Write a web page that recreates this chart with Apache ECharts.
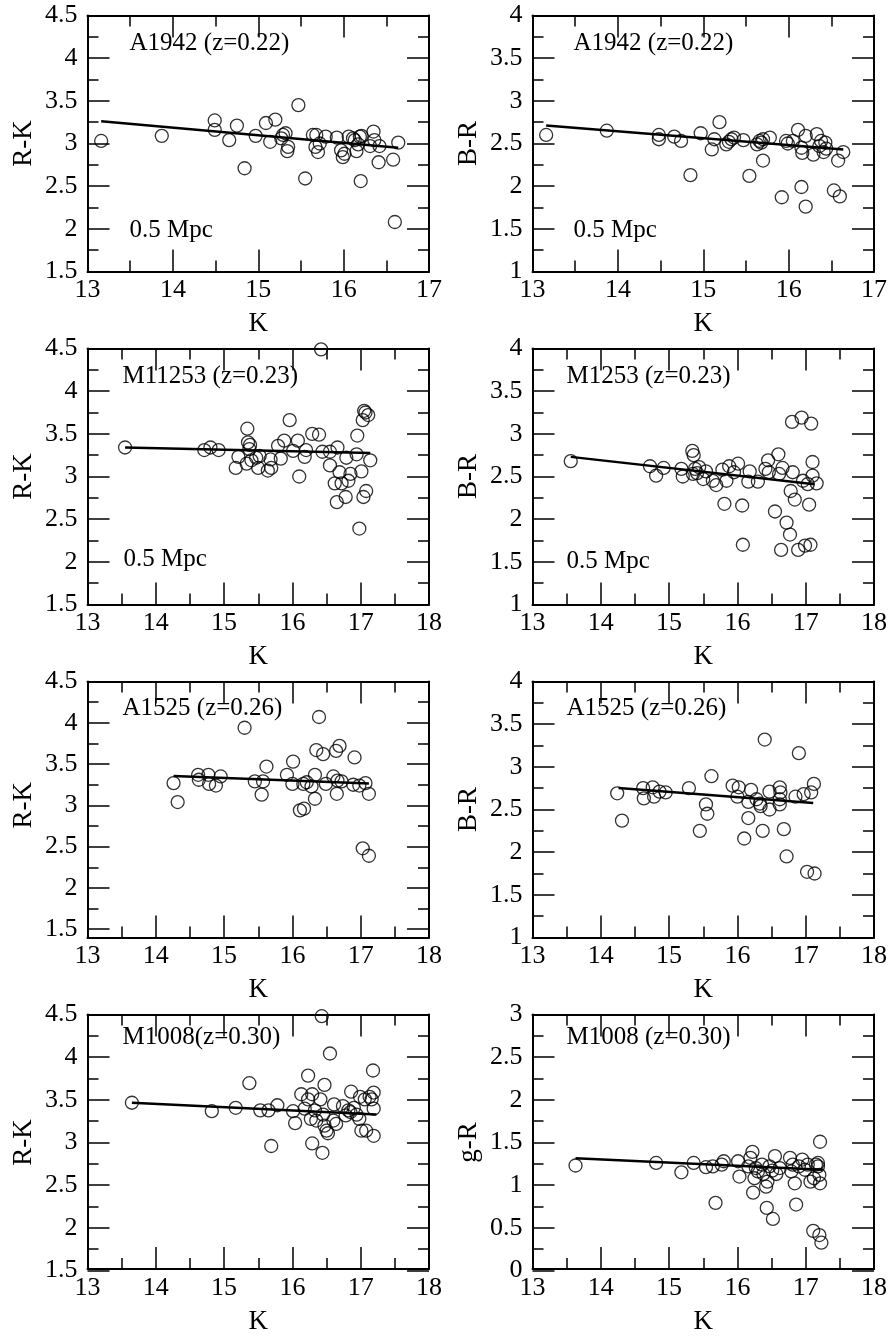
<!DOCTYPE html>
<html>
<head>
<meta charset="utf-8">
<script src="https://cdn.jsdelivr.net/npm/echarts@6/dist/echarts.min.js"></script>
<style>
  html, body { margin: 0; padding: 0; background: #fff; }
  #chart { width: 893px; height: 1336px; }
</style>
</head>
<body>
<div id="chart"></div>
<script>
// tick labels
const K_TICKS_17 = [13, 14, 15, 16, 17];
const K_TICKS_18 = [13, 14, 15, 16, 17, 18];
const RK_TICKS = [1.5, 2, 2.5, 3, 3.5, 4, 4.5];
const BR_TICKS = [1, 1.5, 2, 2.5, 3, 3.5, 4];
const GR_TICKS = [0, 0.5, 1, 1.5, 2, 2.5, 3];

// A1942 (z=0.22), [K, colour]
const A1942_RK = [[13.16,3.03],[13.87,3.09],[14.49,3.27],[14.49,3.16],[14.66,3.04],[14.75,3.21],[14.84,2.71],[14.97,3.09],[15.09,3.24],[15.20,3.28],[15.14,3.02],[15.27,3.06],[15.29,3.10],[15.32,3.12],[15.35,2.96],[15.34,2.91],[15.47,3.45],[15.55,2.59],[15.64,3.10],[15.68,3.10],[15.67,2.96],[15.70,2.90],[15.72,3.00],[15.79,3.08],[15.92,3.07],[15.97,2.92],[15.99,2.84],[16.01,2.88],[16.06,3.08],[16.11,3.06],[16.13,3.04],[16.15,2.91],[16.17,2.99],[16.19,3.08],[16.21,3.09],[16.20,2.56],[16.31,2.97],[16.35,3.14],[16.36,3.04],[16.42,2.97],[16.41,2.78],[16.58,2.81],[16.60,2.08],[16.64,3.01]];
const A1942_RK_FIT = [[13.16,3.26],[16.64,2.95]];
const A1942_BR = [[13.16,2.60],[13.87,2.65],[14.48,2.60],[14.48,2.55],[14.66,2.58],[14.74,2.53],[14.85,2.13],[14.97,2.62],[15.10,2.43],[15.13,2.55],[15.19,2.75],[15.27,2.49],[15.30,2.52],[15.33,2.55],[15.36,2.57],[15.47,2.54],[15.54,2.12],[15.63,2.49],[15.66,2.53],[15.68,2.51],[15.70,2.55],[15.70,2.30],[15.78,2.57],[15.92,1.87],[15.97,2.53],[15.99,2.50],[16.05,2.53],[16.11,2.66],[16.15,2.45],[16.16,2.39],[16.15,1.99],[16.20,2.59],[16.20,1.76],[16.29,2.37],[16.33,2.61],[16.36,2.47],[16.38,2.53],[16.41,2.40],[16.43,2.51],[16.44,2.44],[16.53,1.95],[16.58,2.30],[16.60,1.88],[16.64,2.40]];
const A1942_BR_FIT = [[13.16,2.71],[16.64,2.43]];

// M1253 (z=0.23)
const M1253_RK = [[13.55,3.34],[14.71,3.31],[14.80,3.34],[14.92,3.31],[15.21,3.23],[15.17,3.10],[15.34,3.56],[15.35,3.40],[15.38,3.37],[15.37,3.32],[15.33,3.15],[15.40,3.19],[15.47,3.22],[15.50,3.10],[15.52,3.24],[15.64,3.07],[15.68,3.20],[15.69,3.10],[15.79,3.36],[15.83,3.21],[15.88,3.42],[15.96,3.66],[16.01,3.30],[16.08,3.42],[16.10,3.00],[16.18,3.23],[16.20,3.31],[16.29,3.50],[16.39,3.49],[16.42,4.49],[16.44,3.29],[16.55,3.29],[16.55,3.13],[16.62,2.92],[16.65,2.70],[16.66,3.34],[16.69,3.05],[16.72,2.92],[16.78,2.76],[16.79,3.22],[16.82,2.95],[16.85,3.03],[16.95,3.48],[16.94,3.26],[16.98,2.39],[17.01,3.06],[17.04,2.76],[17.03,3.66],[17.05,3.77],[17.07,3.75],[17.11,3.72],[17.08,2.83],[17.14,3.19]];
const M1253_RK_FIT = [[13.55,3.34],[17.14,3.275]];
const M1253_BR = [[13.56,2.68],[14.72,2.62],[14.81,2.51],[14.92,2.60],[15.18,2.59],[15.20,2.50],[15.34,2.80],[15.36,2.75],[15.38,2.59],[15.41,2.54],[15.35,2.53],[15.44,2.61],[15.50,2.47],[15.54,2.56],[15.64,2.45],[15.69,2.40],[15.78,2.58],[15.81,2.18],[15.84,2.45],[15.88,2.62],[15.95,2.55],[16.01,2.65],[16.07,2.16],[16.08,1.70],[16.16,2.44],[16.18,2.56],[16.30,2.44],[16.41,2.59],[16.45,2.69],[16.46,2.55],[16.55,2.09],[16.60,2.76],[16.61,2.53],[16.64,1.64],[16.66,2.60],[16.72,1.96],[16.77,1.82],[16.78,2.33],[16.80,3.14],[16.81,2.55],[16.84,2.23],[16.89,1.64],[16.94,3.19],[16.96,2.45],[16.99,1.69],[17.03,2.41],[17.05,2.17],[17.07,1.70],[17.08,3.12],[17.10,2.67],[17.10,2.51],[17.16,2.42]];
const M1253_BR_FIT = [[13.56,2.73],[17.13,2.41]];

// A1525 (z=0.26)
const A1525_RK = [[14.26,3.27],[14.32,3.04],[14.62,3.37],[14.63,3.31],[14.77,3.37],[14.78,3.26],[14.88,3.24],[14.95,3.35],[15.30,3.94],[15.45,3.29],[15.55,3.13],[15.57,3.29],[15.62,3.47],[15.92,3.37],[16.01,3.53],[16.00,3.26],[16.11,2.94],[16.17,2.96],[16.16,3.26],[16.21,3.28],[16.28,3.23],[16.33,3.37],[16.33,3.08],[16.35,3.67],[16.39,4.07],[16.45,3.62],[16.49,3.26],[16.60,3.35],[16.64,3.66],[16.65,3.14],[16.66,3.30],[16.69,3.72],[16.72,3.29],[16.89,3.25],[16.91,3.58],[16.98,3.24],[17.07,3.27],[17.03,2.48],[17.12,2.39],[17.12,3.14]];
const A1525_RK_FIT = [[14.26,3.355],[17.12,3.265]];
const A1525_BR = [[14.24,2.69],[14.31,2.37],[14.62,2.75],[14.63,2.63],[14.76,2.76],[14.78,2.65],[14.86,2.71],[14.95,2.70],[15.29,2.75],[15.45,2.25],[15.54,2.56],[15.56,2.45],[15.62,2.89],[15.93,2.78],[16.02,2.76],[16.00,2.65],[16.10,2.16],[16.16,2.40],[16.20,2.73],[16.16,2.59],[16.28,2.62],[16.33,2.57],[16.34,2.54],[16.37,2.25],[16.40,3.32],[16.47,2.71],[16.47,2.50],[16.62,2.76],[16.63,2.70],[16.62,2.62],[16.62,2.56],[16.68,2.27],[16.72,1.95],[16.85,2.65],[16.90,3.16],[16.97,2.68],[17.02,1.77],[17.08,2.70],[17.12,2.80],[17.13,1.75]];
const A1525_BR_FIT = [[14.26,2.753],[17.11,2.576]];

// M1008 (z=0.30)
const M1008_RK = [[13.65,3.46],[14.82,3.36],[15.17,3.40],[15.37,3.69],[15.53,3.37],[15.65,3.37],[15.69,2.95],[15.78,3.43],[16.01,3.36],[16.04,3.22],[16.13,3.56],[16.18,3.39],[16.23,3.78],[16.23,3.50],[16.27,3.27],[16.29,3.56],[16.29,2.98],[16.33,3.37],[16.35,3.25],[16.41,3.50],[16.43,4.48],[16.44,2.87],[16.45,3.32],[16.47,3.67],[16.47,3.19],[16.50,3.13],[16.52,3.10],[16.55,4.04],[16.60,3.25],[16.61,3.44],[16.64,3.21],[16.74,3.42],[16.78,3.31],[16.82,3.37],[16.85,3.35],[16.86,3.59],[16.90,3.40],[16.94,3.32],[16.98,3.27],[16.99,3.53],[17.01,3.13],[17.06,3.50],[17.08,3.13],[17.13,3.53],[17.16,3.50],[17.18,3.84],[17.19,3.58],[17.19,3.39],[17.19,3.07]];
const M1008_RK_FIT = [[13.65,3.46],[17.23,3.32]];
const M1008_GR = [[13.63,1.22],[14.81,1.25],[15.18,1.14],[15.36,1.25],[15.54,1.20],[15.64,1.21],[15.68,0.78],[15.77,1.23],[15.80,1.27],[16.01,1.27],[16.03,1.09],[16.16,1.21],[16.19,1.31],[16.22,1.38],[16.23,0.90],[16.25,1.07],[16.27,1.19],[16.30,1.15],[16.36,1.23],[16.38,1.12],[16.42,0.97],[16.43,0.72],[16.44,1.03],[16.47,1.21],[16.51,1.16],[16.52,0.59],[16.55,1.33],[16.57,1.12],[16.62,1.19],[16.77,1.31],[16.79,1.15],[16.81,1.23],[16.84,1.01],[16.86,0.76],[16.90,1.21],[16.95,1.29],[16.99,1.17],[17.03,1.23],[17.07,1.03],[17.11,0.45],[17.12,1.07],[17.15,1.23],[17.18,1.21],[17.20,0.40],[17.20,1.11],[17.21,1.01],[17.21,1.50],[17.23,0.31],[17.18,1.25]];
const M1008_GR_FIT = [[13.63,1.306],[17.25,1.17]];

const FONT = '"Liberation Serif", "Times New Roman", serif';
const COLS = [87.5, 532.5];
const ROWS = [15.5, 348.5, 681.5, 1014.5];
const PW = 341.5, PH = 256;

// yMin is the bottom of the frame; ticks always start at yt[0]
const panels = [
  { col: 0, row: 0, pts: A1942_RK, fit: A1942_RK_FIT, xt: K_TICKS_17, yt: RK_TICKS, yMin: 1.5, yName: 'R-K', title: 'A1942 (z=0.22)', tAt: [42, 28], mpcAt: [42, 215] },
  { col: 1, row: 0, pts: A1942_BR, fit: A1942_BR_FIT, xt: K_TICKS_17, yt: BR_TICKS, yMin: 1, yName: 'B-R', title: 'A1942 (z=0.22)', tAt: [41, 28], mpcAt: [41, 215] },
  { col: 0, row: 1, pts: M1253_RK, fit: M1253_RK_FIT, xt: K_TICKS_18, yt: RK_TICKS, yMin: 1.5, yName: 'R-K', title: 'M11253 (z=0.23)', tAt: [35, 28], mpcAt: [36, 211] },
  { col: 1, row: 1, pts: M1253_BR, fit: M1253_BR_FIT, xt: K_TICKS_18, yt: BR_TICKS, yMin: 1, yName: 'B-R', title: 'M1253 (z=0.23)', tAt: [34, 28], mpcAt: [34, 213] },
  { col: 0, row: 2, pts: A1525_RK, fit: A1525_RK_FIT, xt: K_TICKS_18, yt: RK_TICKS, yMin: 1.4, yName: 'R-K', title: 'A1525 (z=0.26)', tAt: [35, 27] },
  { col: 1, row: 2, pts: A1525_BR, fit: A1525_BR_FIT, xt: K_TICKS_18, yt: BR_TICKS, yMin: 1, yName: 'B-R', title: 'A1525 (z=0.26)', tAt: [34, 27] },
  { col: 0, row: 3, pts: M1008_RK, fit: M1008_RK_FIT, xt: K_TICKS_18, yt: RK_TICKS, yMin: 1.5, yName: 'R-K', title: 'M1008(z=0.30)', tAt: [35, 23] },
  { col: 1, row: 3, pts: M1008_GR, fit: M1008_GR_FIT, xt: K_TICKS_18, yt: GR_TICKS, yMin: 0, yName: 'g-R', title: 'M1008 (z=0.30)', tAt: [34, 23] }
];

const black = '#000';
const frame = { show: true, onZero: false, lineStyle: { color: black, width: 2 } };
const noLine = { show: false, onZero: false };
const tick = { show: true, inside: true, length: 22, lineStyle: { color: black, width: 1.5 } };
const minor = { show: true, splitNumber: 2, length: 11, lineStyle: { color: black, width: 1.5 } };
const noTick = { show: false };
const noMinor = { show: false };
const label = { show: true, color: black, fontFamily: FONT, fontSize: 26 };
const nameStyle = { color: black, fontFamily: FONT, fontSize: 27 };

const grid = [], xAxis = [], yAxis = [], series = [], graphic = [];

function axis(gridIndex, position, min, max, interval, opts) {
  return Object.assign({
    type: 'value', gridIndex, position, min, max, interval,
    splitLine: { show: false },
    axisLine: noLine, axisTick: noTick, minorTick: noMinor,
    axisLabel: { show: false }
  }, opts);
}

panels.forEach((p) => {
  const rect = { left: COLS[p.col], top: ROWS[p.row], width: PW, height: PH };
  const xMin = p.xt[0], xMax = p.xt[p.xt.length - 1];
  const yTop = p.yt[p.yt.length - 1], yStart = p.yt[0];
  const yStep = p.yt[1] - p.yt[0];
  const aligned = yStart === p.yMin;

  // grid for the data, the frame and the K ticks
  const g = grid.length;
  grid.push(rect);
  const xi = xAxis.length, yi = yAxis.length;
  xAxis.push(axis(g, 'bottom', xMin, xMax, 1, {
    axisLine: frame, axisTick: tick, minorTick: minor,
    axisLabel: Object.assign({}, label, { margin: 6 }),
    name: 'K', nameLocation: 'middle', nameGap: 39, nameTextStyle: nameStyle
  }));
  xAxis.push(axis(g, 'top', xMin, xMax, 1, { axisLine: frame, axisTick: tick, minorTick: minor }));
  yAxis.push(axis(g, 'left', p.yMin, yTop, aligned ? yStep : null, { axisLine: frame }));
  yAxis.push(axis(g, 'right', p.yMin, yTop, aligned ? yStep : null, { axisLine: frame }));

  // grid for the colour ticks: it starts at the first tick value, so the
  // interval always counts from a round number even when the frame does not
  const tg = grid.length;
  const tickH = PH * (yTop - yStart) / (yTop - p.yMin);
  grid.push({ left: rect.left, top: rect.top, width: PW, height: tickH });
  xAxis.push(axis(tg, 'bottom', xMin, xMax, 1, { show: false }));
  yAxis.push(axis(tg, 'left', yStart, yTop, yStep, {
    axisTick: tick, minorTick: minor,
    axisLabel: Object.assign({}, label, { margin: 10, padding: [8, 0, 0, 0] }),
    name: p.yName, nameLocation: 'middle', nameGap: 50, nameTextStyle: nameStyle
  }));
  yAxis.push(axis(tg, 'right', yStart, yTop, yStep, { axisTick: tick, minorTick: minor }));

  series.push({
    type: 'scatter',
    xAxisIndex: xi, yAxisIndex: yi,
    data: p.pts,
    symbol: 'circle',
    symbolSize: 13,
    clip: false,
    itemStyle: { color: 'rgba(0,0,0,0)', borderColor: black, borderWidth: 1.3 }
  });
  series.push({
    type: 'line',
    xAxisIndex: xi, yAxisIndex: yi,
    data: p.fit,
    symbol: 'none',
    clip: false,
    z: 3,
    lineStyle: { color: black, width: 2.5 }
  });

  const txt = (s, at) => ({
    type: 'text',
    x: rect.left + at[0],
    y: rect.top + at[1],
    style: { text: s, font: '25px ' + FONT, fill: black, verticalAlign: 'middle' }
  });
  graphic.push(txt(p.title, p.tAt));
  if (p.mpcAt) graphic.push(txt('0.5 Mpc', p.mpcAt));
});

const chart = echarts.init(document.getElementById('chart'));
chart.setOption({
  backgroundColor: '#fff',
  animation: false,
  grid: grid,
  xAxis: xAxis,
  yAxis: yAxis,
  series: series,
  graphic: graphic
});
</script>
</body>
</html>
